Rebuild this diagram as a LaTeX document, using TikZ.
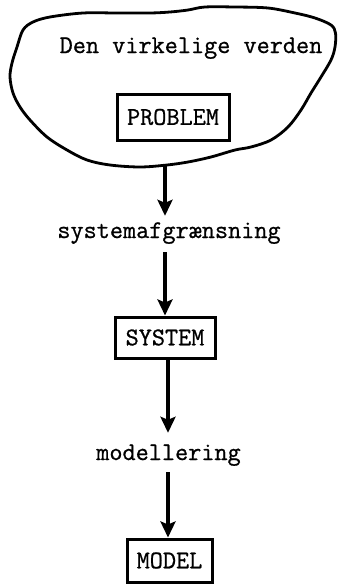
\documentclass[tikz,border=0pt]{standalone}
\usepackage{fontspec}
\setmonofont[FakeBold=0.8]{Latin Modern Mono}
\usetikzlibrary{arrows.meta}
\tikzset{
  tt/.style={font=\ttfamily\fontsize{25.5}{30}\selectfont},
  termbox/.style={tt, draw, line width=3pt, inner sep=0pt, align=center},
  steplabel/.style={tt, inner sep=0pt, text height=11pt, text depth=5pt, anchor=base},
  flow/.style={line width=3.8pt, -{Stealth[length=16pt,width=15pt,inset=3pt]}},
  world/.style={line width=2.8pt, line join=round}
}
\begin{document}
\begin{tikzpicture}[x=1pt,y=-1pt]
\useasboundingbox (0,0) rectangle (338,584);

% the real world, drawn as a blob
\draw[world] plot[smooth cycle, tension=0.55] coordinates {
  (170,12) (150,13) (117,13) (83,13) (50,17) (33,22) (23,30) (17,47)
  (12,63) (10,77) (13,93) (20,107) (30,120) (47,137) (67,150) (87,160)
  (110,165) (140,167) (167,165) (188,162) (211,157) (235,150) (251,147)
  (271,140) (288,127) (301,110) (311,93) (321,77) (331,60) (335,47)
  (335.5,33) (331,25) (315,18) (295,13) (268,8) (235,7) (205,7) (188,10)};
\coordinate (worldbottom) at (165,165);
\node[tt, anchor=base, inner sep=0pt] (world) at (191,53) {Den virkelige verden};

% boxes
\node[termbox, minimum width=112pt, minimum height=46pt] (problem) at (173,117) {PROBLEM};
\node[termbox, minimum width=100pt, minimum height=41pt] (system) at (165,337.5) {SYSTEM};
\node[termbox, minimum width=85pt, minimum height=43pt] (model) at (169.5,560.5) {MODEL};

% step labels
\node[steplabel] (delim) at (169,238) {systemafgrænsning};
\node[steplabel] (modelling) at (168.5,460) {modellering};

% connectors
\draw[flow, shorten >=11pt] (worldbottom) -- (worldbottom |- delim.north);
\draw[flow, shorten <=9pt] (system.north |- delim.south) -- (system.north);
\draw[flow, shorten >=16pt] ([xshift=3pt]system.south) -- ([xshift=3pt]system.south |- modelling.north);
\draw[flow, shorten <=7pt] ([xshift=-1.5pt]model.north |- modelling.south) -- ([xshift=-1.5pt]model.north);
\end{tikzpicture}
\end{document}
